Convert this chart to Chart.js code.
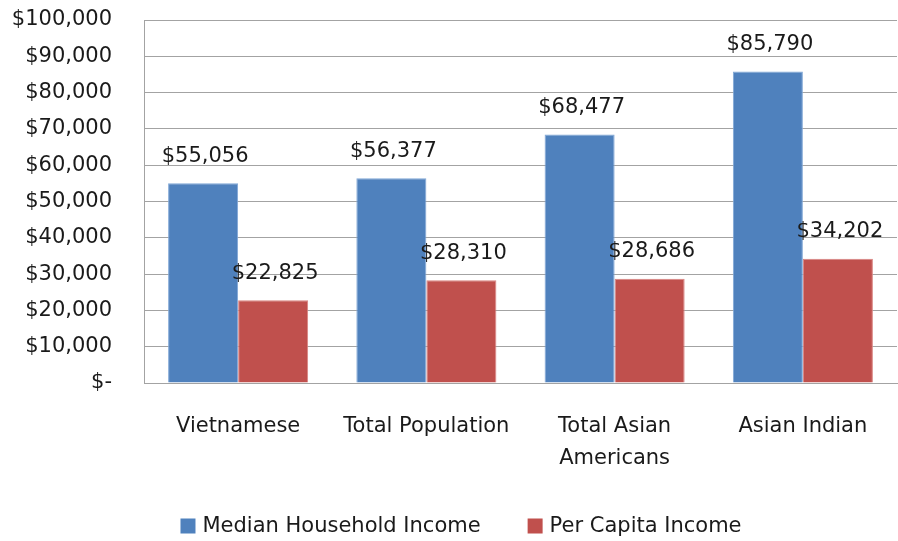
<!DOCTYPE html>
<html>
<head>
<meta charset="utf-8">
<script src="https://cdn.jsdelivr.net/npm/chart.js@4"></script>
<style>
html,body{margin:0;padding:0;background:#fff;}
#wrap{width:898px;height:541px;}
</style>
</head>
<body>
<div id="wrap"><canvas id="c" width="898" height="541"></canvas></div>
<script>
const categories = ["Vietnamese", "Total Population", ["Total Asian", "Americans"], "Asian Indian"];
const seriesNames = ["Median Household Income", "Per Capita Income"];
const medianHousehold = [55056, 56377, 68477, 85790];
const perCapita = [22825, 28310, 28686, 34202];
const yTicks = [0, 10000, 20000, 30000, 40000, 50000, 60000, 70000, 80000, 90000, 100000];

const FONT = "'DejaVu Sans', 'Liberation Sans', sans-serif";
const FS = 21;
const TEXT = "#1a1a1a";
const GRID = "#a3a3a3";
const fmt = v => v === 0 ? "$-" : "$" + v.toLocaleString("en-US");

const labelPlugin = {
  id: "barLabels",
  afterDatasetsDraw(chart) {
    const ctx = chart.ctx;
    ctx.save();
    ctx.font = FS + "px " + FONT;
    ctx.fillStyle = TEXT;
    ctx.textAlign = "center";
    ctx.textBaseline = "middle";
    chart.data.datasets.forEach((ds, di) => {
      const meta = chart.getDatasetMeta(di);
      meta.data.forEach((bar, i) => {
        ctx.fillText(fmt(ds.data[i]), bar.x + 2, bar.y - 27);
      });
    });
    ctx.restore();
  }
};

// bottom legend drawn from dataset labels/colours
const legendPlugin = {
  id: "bottomLegend",
  afterDraw(chart) {
    const ctx = chart.ctx;
    ctx.save();
    ctx.font = FS + "px " + FONT;
    ctx.textBaseline = "middle";
    ctx.textAlign = "left";
    const box = 15, gap = 7, spacing = 47;
    const items = chart.data.datasets.map(ds => ({ text: ds.label, color: ds.backgroundColor, w: ctx.measureText(ds.label).width }));
    let total = 0;
    items.forEach((it, i) => { total += box + gap + it.w + (i ? spacing : 0); });
    let x = 461 - total / 2;
    const cy = 526;
    items.forEach((it, i) => {
      if (i) x += spacing;
      ctx.fillStyle = it.color;
      ctx.fillRect(x, cy - box / 2, box, box);
      x += box + gap;
      ctx.fillStyle = TEXT;
      ctx.fillText(it.text, x, cy + 1);
      x += it.w;
    });
    ctx.restore();
  }
};

new Chart(document.getElementById("c"), {
  type: "bar",
  data: {
    labels: categories,
    datasets: [
      { label: seriesNames[0], data: medianHousehold, backgroundColor: "#4F81BD", borderColor: "#7FA6D6", borderWidth: 1 },
      { label: seriesNames[1], data: perCapita, backgroundColor: "#C0504D", borderColor: "#D98380", borderWidth: 1 }
    ]
  },
  options: {
    responsive: false,
    animation: false,
    devicePixelRatio: 1,
    layout: { padding: { top: 20, right: 1, left: 0, bottom: 0 } },
    datasets: { bar: { categoryPercentage: 0.744, barPercentage: 1.0 } },
    plugins: {
      legend: { display: false },
      tooltip: { enabled: false }
    },
    scales: {
      x: {
        grid: { display: false, drawTicks: false },
        border: { display: true, color: GRID, width: 1 },
        ticks: {
          font: { family: FONT, size: FS, lineHeight: 1.5 },
          color: TEXT,
          padding: 28,
          maxRotation: 0,
          autoSkip: false
        },
        afterFit: s => { s.height = 158; s.paddingLeft = 0; s.paddingRight = 0; }
      },
      y: {
        min: 0,
        max: 100000,
        afterBuildTicks: s => { s.ticks = yTicks.map(v => ({ value: v })); },
        grid: { color: GRID, drawTicks: false, lineWidth: 1 },
        border: { display: true, color: GRID, width: 1 },
        ticks: {
          font: { family: FONT, size: FS },
          color: TEXT,
          padding: 32,
          callback: v => fmt(v)
        },
        afterFit: s => { s.width = 144; s.paddingTop = 0; s.paddingBottom = 0; }
      }
    }
  },
  plugins: [labelPlugin, legendPlugin]
});
</script>
</body>
</html>
